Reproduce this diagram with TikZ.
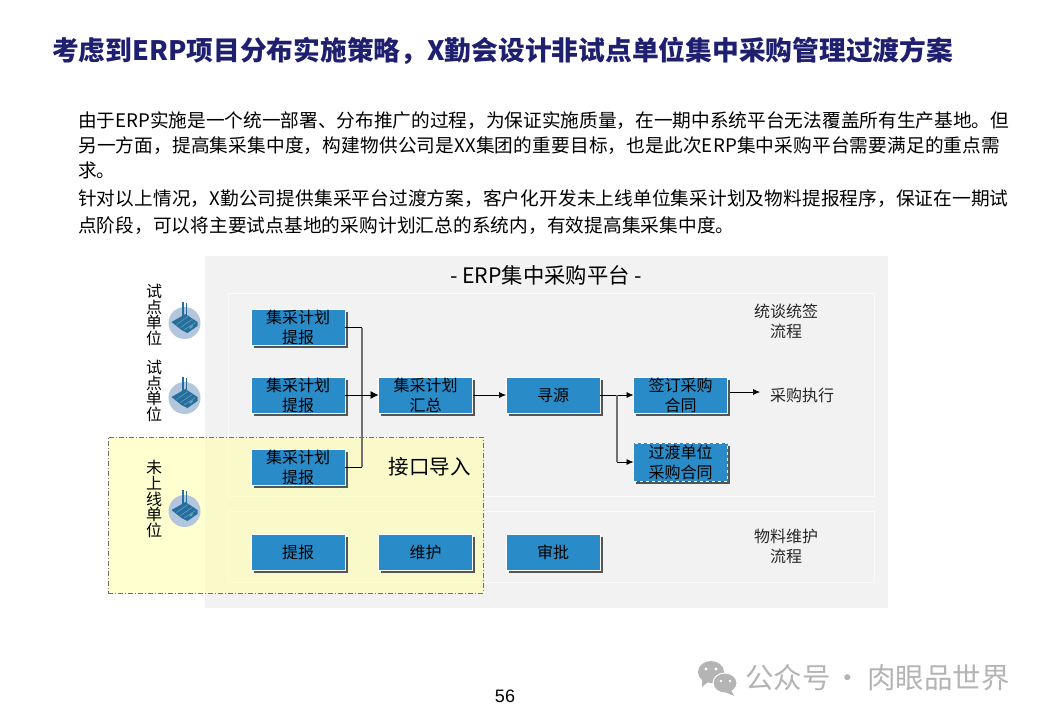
\documentclass[tikz,border=0pt]{standalone}
\usepackage{fontspec}
\setmainfont{Noto Sans CJK SC}
\newfontfamily\pagenofont{Liberation Sans}
\usetikzlibrary{arrows.meta, shadows}
\definecolor{erpnavy}{HTML}{1F1F70}
\definecolor{erpblue}{HTML}{298CC8}
\definecolor{erpshadow}{HTML}{555555}
\definecolor{erpplatform}{HTML}{F2F2F2}
\definecolor{erppanel}{HTML}{FAFAFA}
\definecolor{erpyellow}{HTML}{FFFFB0}
\definecolor{erpfactory}{HTML}{266F9C}
\definecolor{erpstripe}{HTML}{6FA3C4}
\definecolor{erpdisc}{HTML}{B3C6DD}
\definecolor{erpline}{HTML}{707070}
\definecolor{erpmark}{HTML}{B4B4B4}
\newcommand{\spacedline}[2]{{\addfontfeature{LetterSpace=#1}#2}}

\tikzset{
  factoryicon/.pic={
    \fill[erpdisc] (0,0) circle (16);
    \draw[erpfactory, line width=1.7] (-1.7,-21) -- (-1.7,-6);
    \draw[erpfactory, line width=1.7] (1.9,-20) -- (1.9,-5);
    \fill[erpfactory] (-13,-1) -- (1,-9) -- (13,-1) -- (13,3) -- (3,10) -- (-3,7) -- cycle;
    \draw[erpstripe, line width=0.5] (-8,1.5) -- (3.5,-6.5);
    \draw[erpstripe, line width=0.5] (-4,4.5) -- (7.5,-3.5);
    \draw[erpstripe, line width=0.5] (-0.5,7) -- (11,-0.5);
    \fill[erpstripe] (5,4) -- (8,2) -- (8,4) -- (5,6) -- cycle;
  }
}

\begin{document}
\begin{tikzpicture}[
  x=1pt, y=-1pt,
  procbox/.style={draw=white, line width=0.7pt, fill=erpblue, minimum width=94pt, minimum height=36pt, inner sep=0pt, outer sep=0pt, align=center, font=\fontsize{16}{20}\selectfont, text height=24pt, text depth=12pt, drop shadow={shadow xshift=2.5pt, shadow yshift=-2.5pt, fill=erpshadow, opacity=1}},
  procboxtwo/.style={procbox, text height=34pt, text depth=2pt},
  sidelabel/.style={align=center, inner sep=0pt, font=\fontsize{16}{15.8}\selectfont},
  flowlabel/.style={align=center, inner sep=0pt, font=\fontsize{16}{20}\selectfont, text=black!85},
  arrow/.style={-{Latex[length=7pt,width=6pt]}, line width=0.7pt}
]
\useasboundingbox (0,0) rectangle (1040,720);
\fill[white] (0,0) rectangle (1040,720);

\node[anchor=west, inner sep=0pt, font=\fontsize{26.75}{30}\selectfont\bfseries, text=erpnavy] (title) at (52,51) {考虑到ERP项目分布实施策略，X勤会设计非试点单位集中采购管理过渡方案};

\node[anchor=north west, inner sep=0pt, align=left, font=\fontsize{18.67}{25}\selectfont] (intro) at (78,111) {由于ERP实施是一个统一部署、分布推广的过程，为保证实施质量，在一期中系统平台无法覆盖所有生产基地。但\\\spacedline{0.77}{另一方面，提高集采集中度，构建物供公司是XX集团的重要目标，也是此次ERP集中采购平台需要满足的重点需}\\求。\\[3pt]\spacedline{0.54}{针对以上情况，X勤公司提供集采平台过渡方案，客户化开发未上线单位集采计划及物料提报程序，保证在一期试}\\[2pt]\spacedline{0.45}{点阶段，可以将主要试点基地的采购计划汇总的系统内，有效提高集采集中度。}};

% platform and panels
\node[fill=erpplatform, minimum width=683pt, minimum height=352pt, inner sep=0pt] (platform) at (546.5,432) {};
\node[draw=erppanel, fill=erpplatform, minimum width=646pt, minimum height=203pt, inner sep=0pt] (panela) at (551,394.5) {};
\node[draw=erppanel, fill=erpplatform, minimum width=646pt, minimum height=71pt, inner sep=0pt] (panelb) at (551,546.5) {};
\node[draw=erpline, dash pattern=on 5pt off 2pt on 1pt off 2pt, line width=0.6pt, fill=erpyellow, fill opacity=0.6, minimum width=375pt, minimum height=156pt, inner sep=0pt] (legacy) at (295.5,515) {};

\node[inner sep=0pt, font=\fontsize{21.33}{24}\selectfont] (platformtitle) at (546,275) {- ERP集中采购平台 -};

\node[sidelabel] (site1) at (154,315) {试\\点\\单\\位};
\node[sidelabel] (site2) at (154,391) {试\\点\\单\\位};
\node[sidelabel] (site3) at (154,499) {未\\上\\线\\单\\位};
\pic at (184.5,323) {factoryicon};
\pic at (184.5,398) {factoryicon};
\pic at (184.5,511) {factoryicon};

\node[procboxtwo] (r1) at (298,327.5) {集采计划\\提报};
\node[procboxtwo] (r2) at (298,395) {集采计划\\提报};
\node[procboxtwo] (r3) at (298,467) {集采计划\\提报};
\node[procboxtwo] (sum) at (425.5,395) {集采计划\\汇总};
\node[procbox] (src) at (553,395) {寻源};
\node[procboxtwo] (sign) at (680.5,395) {签订采购\\合同};
\node[procboxtwo, dashed, minimum height=38pt, text height=35pt, text depth=3pt] (trans) at (680.5,462) {过渡单位\\采购合同};
\node[flowlabel, anchor=west] (exec) at (770,395) {采购执行};
\node[procbox] (m1) at (298,552) {提报};
\node[procbox] (m2) at (425.5,552) {维护};
\node[procbox] (m3) at (553,552) {审批};

\node[flowlabel] (flowa) at (786,321) {统谈统签\\流程};
\node[flowlabel] (flowb) at (786,546) {物料维护\\流程};
\node[inner sep=0pt, font=\fontsize{20.5}{24}\selectfont] (iface) at (429.5,467) {接口导入};

\coordinate (j1) at (362,327.5);
\coordinate (j3) at (362,467);
\coordinate (k1) at (617,395);
\coordinate (k2) at (617,462);
\coordinate (e1) at (730,392);
\coordinate (e2) at (760,392);

\draw[erpline, line width=1.3pt] (j1) -- (j3);
\draw[line width=0.7pt] (r1.east) -- (j1);
\draw[line width=0.7pt] (r3.east) -- (j3);
\draw[arrow, -{Latex[length=8pt,width=8pt]}] (r2.east) -- (sum.west);
\draw[arrow] (sum.east) -- (src.west);
\draw[arrow] (src.east) -- (sign.west);
\draw[erpline, line width=1.3pt] (k1) -- (k2);
\draw[arrow] (k2) -- (trans.west);
\draw[arrow] (e1) -- (e2);

% watermark
\fill[erpmark] (711,672) ellipse (13 and 11);
\fill[erpmark] (702,679) -- (702,687) -- (709,681) -- cycle;
\fill[erpmark, draw=white, line width=1pt] (725,683) ellipse (12 and 10);
\fill[erpmark] (731,690) -- (734,696) -- (725,692) -- cycle;
\fill[white] (706,669) circle (1.6) (716,669) circle (1.6) (721,681) circle (1.4) (730,681) circle (1.4);
\node[anchor=west, inner sep=0pt, font=\fontsize{28.5}{32}\selectfont, text=erpmark] (mark) at (745,678) {公众号\hspace{3pt}·\hspace{5pt}肉眼品世界};

\node[inner sep=0pt, font=\fontsize{18}{20}\selectfont\pagenofont] (pageno) at (505,696) {56};
\end{tikzpicture}
\end{document}
